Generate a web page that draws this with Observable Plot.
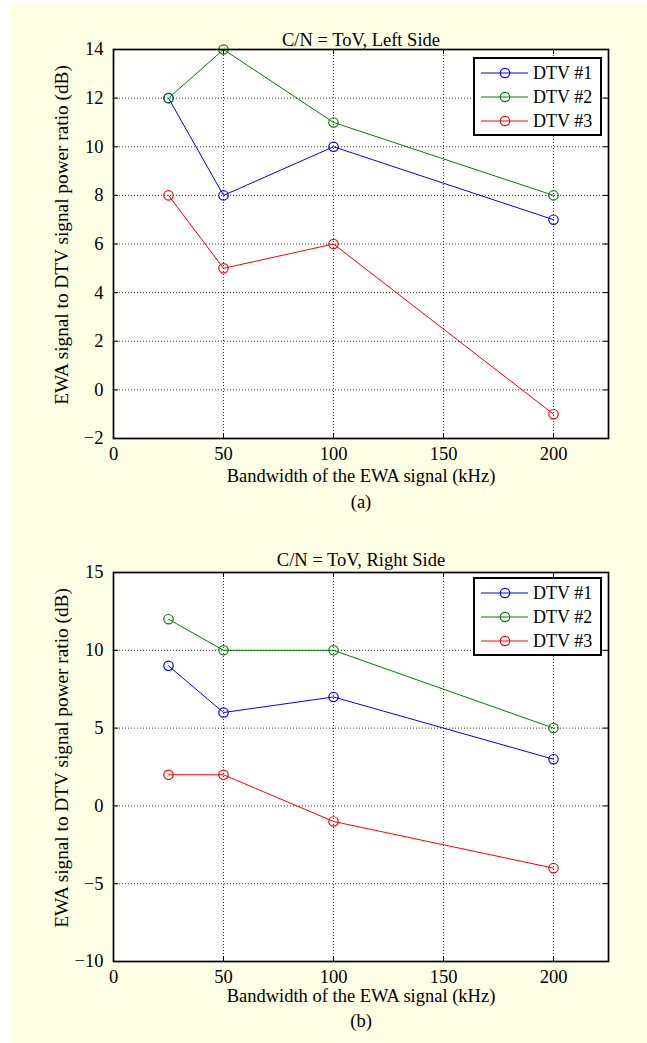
<!DOCTYPE html>
<html><head><meta charset="utf-8">
<script src="https://cdn.jsdelivr.net/npm/d3@7"></script>
<script src="https://cdn.jsdelivr.net/npm/@observablehq/plot@0.6"></script>
<style>
body{margin:0;background:#fff;width:647px;height:1043px;overflow:hidden;position:relative;font-family:"Liberation Serif",serif;}
#bg{position:absolute;left:10px;top:3px;width:637px;height:1040px;background:#ffffe5;}
.panel{position:absolute;left:0;}
.legend{position:absolute;left:473px;}
</style></head><body>
<div id="bg"></div>
<div id="p1" class="panel" style="top:0px"></div>
<div id="p2" class="panel" style="top:520px"></div>
<script>
// ---- data ----
const bandwidth = [25, 50, 100, 200];
const seriesNames = ["DTV #1", "DTV #2", "DTV #3"];
const seriesColors = ["#0000ff", "#008000", "#ff0000"];
const leftDTV1 = [12, 8, 10, 7];
const leftDTV2 = [12, 14, 11, 8];
const leftDTV3 = [8, 5, 6, -1];
const rightDTV1 = [9, 6, 7, 3];
const rightDTV2 = [12, 10, 10, 5];
const rightDTV3 = [2, 2, -1, -4];
const xTicks = [0, 50, 100, 150, 200];
const leftYTicks = [-2, 0, 2, 4, 6, 8, 10, 12, 14];
const rightYTicks = [-10, -5, 0, 5, 10, 15];
const titles = ["C/N = ToV, Left Side", "C/N = ToV, Right Side"];
const captions = ["(a)", "(b)"];
const xLabel = "Bandwidth of the EWA signal (kHz)";
const yLabel = "EWA signal to DTV signal power ratio (dB)";

function toRows(arrs) {
  const rows = [];
  arrs.forEach((vals, i) => vals.forEach((v, j) => rows.push({x: bandwidth[j], y: v, s: seriesNames[i]})));
  return rows;
}

const W = 647;
const ML = 113, MR = 39;
const FS = 18.5;
const FONT = "'Liberation Serif', 'Times New Roman', serif";
const fmt = d => d < 0 ? "\u2212" + Math.abs(d) : String(d);

function panel(opts) {
  const {rows, yTicks, title, caption, height, mt, mb, titleDy, xlDy, capDy, tickPad} = opts;
  const ih = height - mt - mb, iw = W - ML - MR;
  const grid = {stroke: "#000", strokeOpacity: 1, strokeWidth: 0.8, strokeDasharray: "1,2"};
  return Plot.plot({
    width: W, height, marginLeft: ML, marginRight: MR, marginTop: mt, marginBottom: mb,
    style: {fontFamily: FONT, fontSize: FS + "px", background: "transparent", color: "#000", overflow: "visible"},
    x: {domain: [0, 225], ticks: xTicks},
    y: {domain: [yTicks[0], yTicks[yTicks.length - 1]], ticks: yTicks},
    color: {domain: seriesNames, range: seriesColors},
    marks: [
      Plot.frame({fill: "#fff"}),
      Plot.gridX(xTicks, grid),
      Plot.gridY(yTicks, grid),
      Plot.tickX(xTicks, {x: d => d, insetTop: ih - 5, stroke: "#000"}),
      Plot.tickX(xTicks, {x: d => d, insetBottom: ih - 5, stroke: "#000"}),
      Plot.tickY(yTicks, {y: d => d, insetRight: iw - 5, stroke: "#000"}),
      Plot.tickY(yTicks, {y: d => d, insetLeft: iw - 5, stroke: "#000"}),
      Plot.line(rows, {x: "x", y: "y", z: "s", stroke: "s", strokeWidth: 1}),
      Plot.dot(rows, {x: "x", y: "y", stroke: "s", r: 4.7, strokeWidth: 1.2, fill: "none"}),
      Plot.frame({stroke: "#000", strokeWidth: 1.7}),
      Plot.axisX({ticks: xTicks, tickSize: 0, tickPadding: tickPad, tickFormat: fmt, label: null, fontSize: FS}),
      Plot.axisY({ticks: yTicks, tickSize: 0, tickPadding: 10, tickFormat: fmt, label: null, fontSize: FS}),
      Plot.text([title], {frameAnchor: "top", dy: titleDy, text: d => d, fontSize: FS}),
      Plot.text([xLabel], {frameAnchor: "bottom", dy: xlDy, text: d => d, fontSize: FS}),
      Plot.text([caption], {frameAnchor: "bottom", dy: capDy, text: d => d, fontSize: FS}),
      Plot.text([yLabel], {frameAnchor: "left", textAnchor: "middle", dx: -52, dy: -9, rotate: -90, text: d => d, fontSize: 19.3})
    ]
  });
}

function legend(top) {
  const w = 129, h = 79, rowY = [16, 40, 64];
  const svg = d3.create("svg").attr("width", w).attr("height", h).attr("class", "legend").style("top", top + "px");
  svg.append("rect").attr("x", 1).attr("y", 1).attr("width", w - 2).attr("height", h - 2).attr("fill", "#fff").attr("stroke", "#000").attr("stroke-width", 2);
  seriesNames.forEach((n, i) => {
    const g = svg.append("g").attr("transform", `translate(0,${rowY[i]})`);
    g.append("line").attr("x1", 8).attr("x2", 55).attr("stroke", seriesColors[i]).attr("stroke-width", 1);
    g.append("circle").attr("cx", 32).attr("r", 4.7).attr("fill", "none").attr("stroke", seriesColors[i]).attr("stroke-width", 1.2);
    g.append("text").attr("x", 60).attr("dy", "0.35em").attr("font-family", FONT).attr("font-size", 18).text(n);
  });
  return svg.node();
}

const p1 = document.getElementById("p1");
p1.appendChild(panel({rows: toRows([leftDTV1, leftDTV2, leftDTV3]), yTicks: leftYTicks, title: titles[0], caption: captions[0],
  height: 520, mt: 49, mb: 82, titleDy: -17, xlDy: 43, capDy: 69, tickPad: 8}));
const p2 = document.getElementById("p2");
p2.appendChild(panel({rows: toRows([rightDTV1, rightDTV2, rightDTV3]), yTicks: rightYTicks, title: titles[1], caption: captions[1],
  height: 523, mt: 52, mb: 82, titleDy: -20, xlDy: 40, capDy: 65, tickPad: 8}));
document.body.appendChild(legend(57));
document.body.appendChild(legend(577));
</script></body></html>
